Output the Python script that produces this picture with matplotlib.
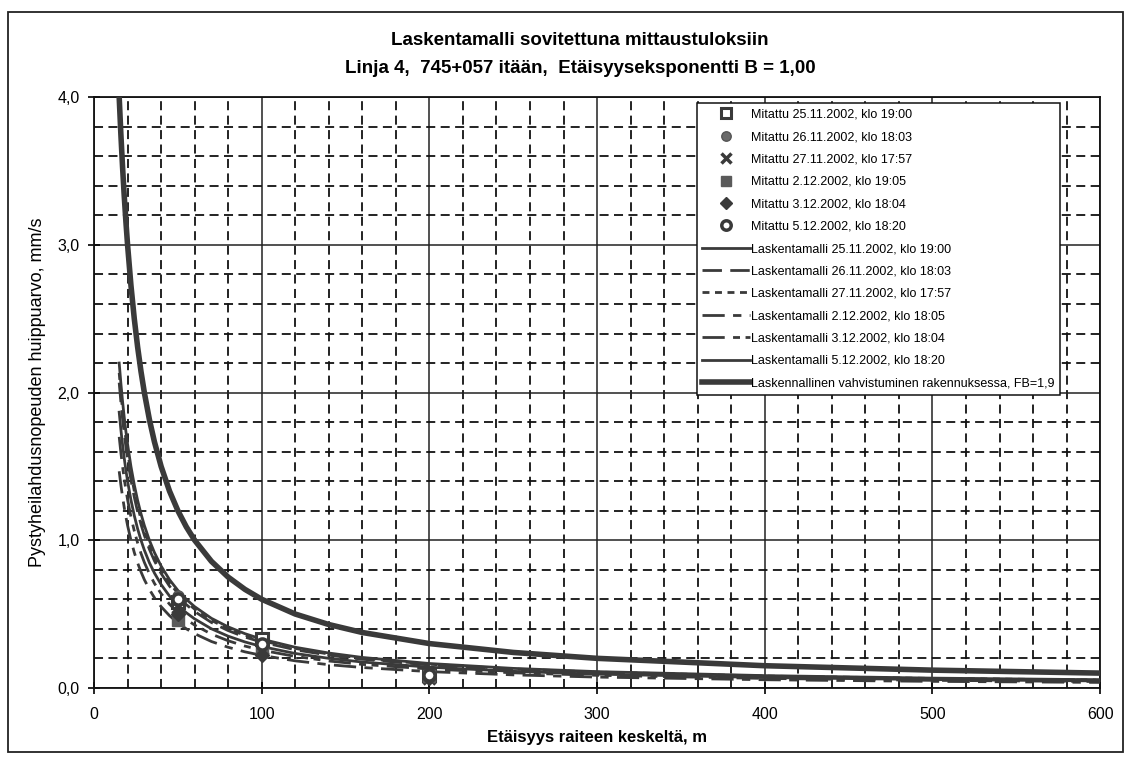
import matplotlib.pyplot as plt
from matplotlib.patches import Rectangle
from matplotlib.ticker import MultipleLocator, FuncFormatter

plt.rcParams['font.family'] = ['Liberation Sans', 'DejaVu Sans']

# etäisyydet (m) joilla laskentamallikäyrät on luettu
dist = [15, 16, 17, 18, 19, 20, 22, 24, 26, 28, 30, 33, 36, 40, 45, 50, 55, 60, 70, 80,
        90, 100, 120, 140, 160, 200, 250, 300, 400, 500, 600]

model_2511 = [2.200, 2.063, 1.941, 1.833, 1.737, 1.650, 1.500, 1.375, 1.269, 1.179, 1.100, 1.000, 0.917, 0.825, 0.733, 0.660,
              0.600, 0.550, 0.471, 0.413, 0.367, 0.330, 0.275, 0.236, 0.206, 0.165, 0.132, 0.110, 0.083, 0.066, 0.055]
model_2611 = [2.067, 1.938, 1.824, 1.722, 1.632, 1.550, 1.409, 1.292, 1.192, 1.107, 1.033, 0.939, 0.861, 0.775, 0.689, 0.620,
              0.564, 0.517, 0.443, 0.388, 0.344, 0.310, 0.258, 0.221, 0.194, 0.155, 0.124, 0.103, 0.078, 0.062, 0.052]
model_2711 = [2.133, 2.000, 1.882, 1.778, 1.684, 1.600, 1.455, 1.333, 1.231, 1.143, 1.067, 0.970, 0.889, 0.800, 0.711, 0.640,
              0.582, 0.533, 0.457, 0.400, 0.356, 0.320, 0.267, 0.229, 0.200, 0.160, 0.128, 0.107, 0.080, 0.064, 0.053]
model_0212 = [1.467, 1.375, 1.294, 1.222, 1.158, 1.100, 1.000, 0.917, 0.846, 0.786, 0.733, 0.667, 0.611, 0.550, 0.489, 0.440,
              0.400, 0.367, 0.314, 0.275, 0.244, 0.220, 0.183, 0.157, 0.138, 0.110, 0.088, 0.073, 0.055, 0.044, 0.037]
model_0312 = [1.700, 1.594, 1.500, 1.417, 1.342, 1.275, 1.159, 1.063, 0.981, 0.911, 0.850, 0.773, 0.708, 0.638, 0.567, 0.510,
              0.464, 0.425, 0.364, 0.319, 0.283, 0.255, 0.213, 0.182, 0.159, 0.128, 0.102, 0.085, 0.064, 0.051, 0.043]
model_0512 = [1.867, 1.750, 1.647, 1.556, 1.474, 1.400, 1.273, 1.167, 1.077, 1.000, 0.933, 0.848, 0.778, 0.700, 0.622, 0.560,
              0.509, 0.467, 0.400, 0.350, 0.311, 0.280, 0.233, 0.200, 0.175, 0.140, 0.112, 0.093, 0.070, 0.056, 0.047]
building_fb19 = [4.000, 3.750, 3.529, 3.333, 3.158, 3.000, 2.727, 2.500, 2.308, 2.143, 2.000, 1.818, 1.667, 1.500, 1.333, 1.200,
                 1.091, 1.000, 0.857, 0.750, 0.667, 0.600, 0.500, 0.429, 0.375, 0.300, 0.240, 0.200, 0.150, 0.120, 0.100]

# mittaukset
meas_dist = [50, 100, 200]
meas_2511 = [0.58, 0.33, 0.09]
meas_2611 = [0.62, 0.28, 0.08]
meas_2711 = [0.55, 0.27, 0.07]
meas_0212 = [0.46, 0.25, 0.08]
meas_0312 = [0.50, 0.22, 0.07]
meas_0512 = [0.60, 0.30, 0.09]

meas_labels = ['Mitattu 25.11.2002, klo 19:00', 'Mitattu 26.11.2002, klo 18:03',
               'Mitattu 27.11.2002, klo 17:57', 'Mitattu 2.12.2002, klo 19:05',
               'Mitattu 3.12.2002, klo 18:04', 'Mitattu 5.12.2002, klo 18:20']
model_labels = ['Laskentamalli 25.11.2002, klo 19:00', 'Laskentamalli 26.11.2002, klo 18:03',
                'Laskentamalli 27.11.2002, klo 17:57', 'Laskentamalli 2.12.2002, klo 18:05',
                'Laskentamalli 3.12.2002, klo 18:04', 'Laskentamalli 5.12.2002, klo 18:20']
building_label = 'Laskennallinen vahvistuminen rakennuksessa, FB=1,9'

dark = '#3a3a3a'

fig = plt.figure(figsize=(11.33, 7.66), dpi=100)
ax = fig.add_axes([0.083, 0.102, 0.888, 0.771])

# ruudukko
ax.xaxis.set_major_locator(MultipleLocator(100))
ax.xaxis.set_minor_locator(MultipleLocator(20))
ax.yaxis.set_major_locator(MultipleLocator(1.0))
ax.yaxis.set_minor_locator(MultipleLocator(0.2))
ax.grid(which='major', color='#222222', lw=1.1, ls='-')
ax.grid(which='minor', color='#111111', lw=1.3, ls=(0, (5, 3)))
ax.set_axisbelow(True)
ax.tick_params(which='minor', length=0)
ax.tick_params(which='major', direction='inout', length=9, width=1.2, labelsize=11.5)
ax.tick_params(axis='x', pad=9)
ax.tick_params(axis='y', pad=6)

marker_style = [
    dict(marker='s', mfc='white', mec=dark, mew=2.2, ms=8),
    dict(marker='o', mfc='#6a6a6a', mec='#555555', mew=1, ms=8),
    dict(marker='x', mfc=dark, mec=dark, mew=2.5, ms=8),
    dict(marker='s', mfc='#5a5a5a', mec='#5a5a5a', mew=1, ms=8),
    dict(marker='D', mfc=dark, mec=dark, mew=1, ms=7),
    dict(marker='o', mfc='white', mec=dark, mew=2.5, ms=8),
]
meas = [meas_2511, meas_2611, meas_2711, meas_0212, meas_0312, meas_0512]
for vals, st, lab in zip(meas, marker_style, meas_labels):
    ax.plot(meas_dist, vals, ls='none', label=lab, zorder=4, **st)

models = [model_2511, model_2611, model_2711, model_0212, model_0312, model_0512]
styles = ['-', (0, (7, 3)), (0, (2.5, 2)), (0, (8, 3, 3, 3)), (0, (8, 3, 2.5, 2, 2.5, 3)), '-']
for vals, ls, lab in zip(models, styles, model_labels):
    ax.plot(dist, vals, color=dark, lw=2, ls=ls, label=lab, zorder=3)

ax.plot(dist, building_fb19, color=dark, lw=4, label=building_label, zorder=3)

ax.set_xlim(0, 600)
ax.set_ylim(0, 4.0)
ax.yaxis.set_major_formatter(FuncFormatter(lambda v, p: ('%.1f' % v).replace('.', ',')))
for s in ax.spines.values():
    s.set_color('#111111')
    s.set_linewidth(1.3)

ax.set_xlabel('Etäisyys raiteen keskeltä, m', fontsize=12, fontweight='bold', labelpad=6)
ax.set_ylabel('Pystyheilahdusnopeuden huippuarvo, mm/s', fontsize=13, labelpad=8)

leg = ax.legend(loc='upper left', bbox_to_anchor=(0.599, 0.99), fontsize=9,
                handlelength=3.8, handletextpad=0.1, labelspacing=0.83,
                borderpad=0.45, borderaxespad=0, frameon=True, fancybox=False,
                edgecolor='#111111', framealpha=1, markerscale=0.85)
leg.get_frame().set_linewidth(1.1)
leg.set_zorder(6)

fig.text(0.512, 0.947, 'Laskentamalli sovitettuna mittaustuloksiin', ha='center', va='center',
         fontsize=13.5, fontweight='bold')
fig.text(0.512, 0.910, 'Linja 4,  745+057 itään,  Etäisyyseksponentti B = 1,00', ha='center',
         va='center', fontsize=13.5, fontweight='bold')

fig.patches.append(Rectangle((0.007, 0.018), 0.984, 0.966, transform=fig.transFigure,
                             fill=False, edgecolor='#222222', lw=1.3))

fig.savefig('out.png', dpi=100)
